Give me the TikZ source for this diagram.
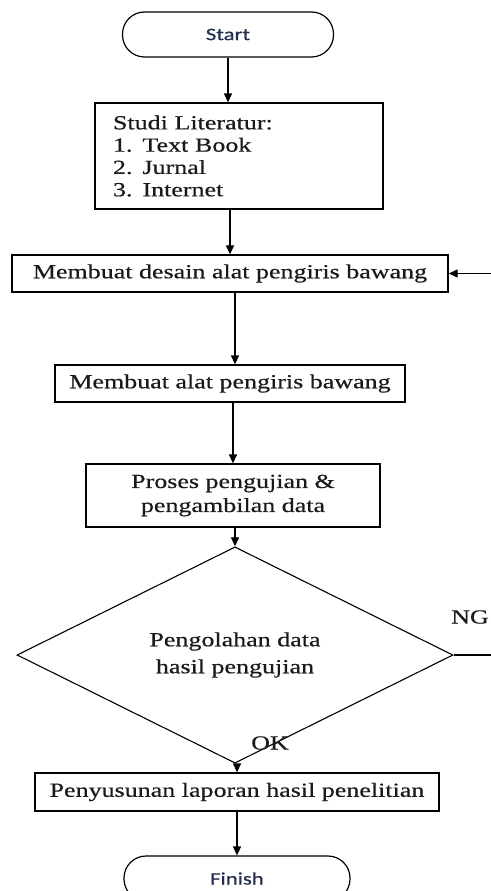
\documentclass[tikz,border=0pt]{standalone}
\usepackage{fontspec}
\setmainfont{Liberation Serif}[FakeStretch=1.3,FakeBold=0.5]
\newfontfamily\termfont{Carlito}[FakeStretch=1.3,FakeBold=0.5]
\usetikzlibrary{shapes.geometric,arrows.meta,calc}
\definecolor{txt}{RGB}{30,25,25}
\definecolor{termtxt}{RGB}{35,45,80}
\begin{document}
\begin{tikzpicture}[x=1pt,y=-1pt,
  every node/.style={text=txt, font=\fontsize{20}{24}\selectfont},
  procbox/.style={draw, line width=1.3pt, inner sep=0pt, align=center},
  term/.style={draw, line width=1.2pt, rounded corners=22pt, minimum height=45pt, inner sep=0pt,
               font=\termfont\fontsize{17.5}{19}\selectfont, text=termtxt},
  flow/.style={line width=1.3pt, -{Triangle[width=8pt,length=9pt]}},
  conn/.style={line width=1.3pt}]
\fill[white] (0,0) rectangle (490,891);
\useasboundingbox (0,0) rectangle (490,891);

\node[term, minimum width=211pt] (start) at (228,34.5) {Start};
\node[procbox, minimum width=288pt, minimum height=106pt, text width=252pt, align=left,
      font=\fontsize{20}{22.3}\selectfont] (studi) at (239,156)
      {Studi Literatur:\\1. Text Book\\2. Jurnal\\3. Internet};
\node[procbox, minimum width=436pt, minimum height=37pt] (desain) at (230,273.5)
      {Membuat desain alat pengiris bawang};
\node[procbox, minimum width=350pt, minimum height=37pt] (alat) at (230,383.5)
      {Membuat alat pengiris bawang};
\node[procbox, minimum width=294pt, minimum height=63pt] (proses) at (233,495.5)
      {Proses pengujian \&\\pengambilan data};
\node[diamond, draw, line width=1.1pt, inner sep=0pt, minimum width=436pt, minimum height=144pt,
      align=center, font=\fontsize{20}{27}\selectfont] (dec) at (235,655)
      {Pengolahan data\\hasil pengujian};
\node[procbox, minimum width=404pt, minimum height=38pt] (pen) at (237,792)
      {Penyusunan laporan hasil penelitian};
\node[term, minimum width=226pt] (finish) at (237,878.5) {Finish};
\node (ng) at (470,617) {NG};
\node (ok) at (270,743) {OK};

\draw[flow] (start.south) -- (start.south |- studi.north);
\draw[flow] (studi.south -| desain.north) -- (desain.north);
\draw[flow] ([xshift=5pt]desain.south) -- ([xshift=5pt]alat.north);
\draw[flow] (alat.south -| proses.north) -- (proses.north);
\draw[flow] (proses.south -| dec.north) -- (dec.north);
\draw[flow] (pen.north |- dec.south) -- (pen.north);
\draw[flow] (pen.south) -- (finish.north);
\coordinate (ngr) at (493,655);
\draw[flow] (dec.east) -- (dec.east -| ngr) -- (ngr |- desain.east) -- (desain.east);
\end{tikzpicture}
\end{document}
